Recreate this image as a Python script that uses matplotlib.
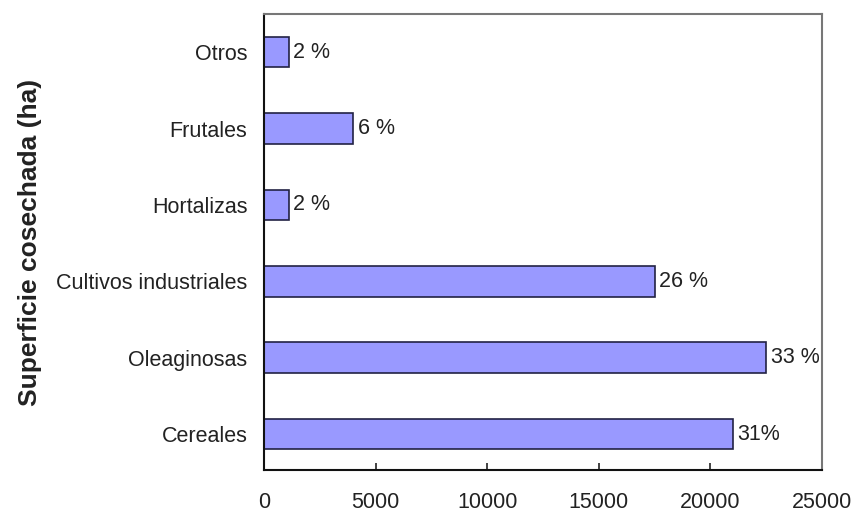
import matplotlib.pyplot as plt

categorias = ['Cereales', 'Oleaginosas', 'Cultivos industriales',
              'Hortalizas', 'Frutales', 'Otros']
superficie = [21000, 22500, 17500, 1100, 4000, 1100]
etiquetas = ['31%', '33 %', '26 %', '2 %', '6 %', '2 %']

plt.rcParams['font.family'] = ['Liberation Sans', 'DejaVu Sans']

fig = plt.figure(figsize=(8.53, 5.16), dpi=100)
ax = fig.add_axes([0.3095, 0.0891, 0.6542, 0.8838])

ypos = range(len(categorias))
bars = ax.barh(ypos, superficie, height=0.4, color='#9999FF',
               edgecolor='#222244', linewidth=1.2)
for b, t in zip(bars, etiquetas):
    ax.text(b.get_width() + 200, b.get_y() + b.get_height() / 2, t,
            va='center', ha='left', fontsize=15.5, color='#222222')

ax.set_xlim(0, 25000)
ax.set_ylim(-0.47, 5.5)
ax.set_xticks([0, 5000, 10000, 15000, 20000, 25000])
ax.set_yticks(list(ypos))
ax.set_yticklabels(categorias)
ax.tick_params(axis='x', direction='in', length=5, width=1.2, pad=16,
               labelsize=15.5, colors='#222222')
ax.tick_params(axis='y', length=0, pad=12, labelsize=15.5, colors='#222222')
ax.set_ylabel('Superficie cosechada (ha)', fontsize=19, fontweight='bold',
              labelpad=10, color='#222222')

for s in ['left', 'bottom']:
    ax.spines[s].set_linewidth(1.5)
    ax.spines[s].set_color('#111111')
for s in ['top', 'right']:
    ax.spines[s].set_linewidth(1.5)
    ax.spines[s].set_color('#777777')

fig.savefig('out.png', dpi=100)
